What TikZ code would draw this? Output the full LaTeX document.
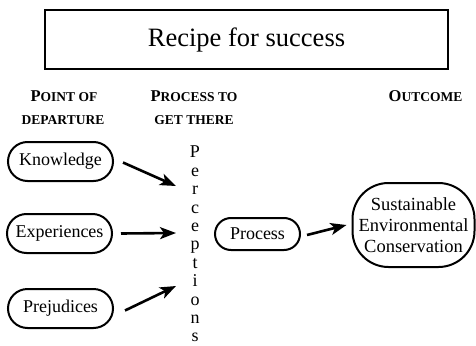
\documentclass[tikz,border=0pt]{standalone}
\usepackage{fontspec}
\setmainfont{Liberation Serif}
\usetikzlibrary{arrows.meta,shapes.misc}
\newcommand{\hsc}[2]{{\fontsize{16.5}{18}\selectfont #1}{\fontsize{13.5}{15}\selectfont #2}}
\tikzset{
  pill/.style={rounded rectangle, draw, line width=2pt, inner sep=0pt,
    font=\fontsize{18}{20}\selectfont},
  arr/.style={line width=2.6pt, -{Stealth[length=16pt,width=12pt,inset=4pt]}},
  head/.style={font=\bfseries, align=center, inner sep=0pt}
}
\begin{document}
\begin{tikzpicture}[x=1pt,y=-1pt]
\useasboundingbox (0,0) rectangle (476,345);
\node[draw, line width=2pt, minimum width=403pt, minimum height=59pt, inner sep=0pt,
  font=\fontsize{26.5}{30}\selectfont] (title) at (246.5,39.5) {Recipe for success};
\node[head, anchor=base] (h1) at (64,101.7) {\hsc{P}{OINT OF}};
\node[head, anchor=base] (h1b) at (63,124) {\fontsize{13.5}{15}\selectfont DEPARTURE};
\node[head, anchor=base] (h2) at (194,101.7) {\hsc{P}{ROCESS TO}};
\node[head, anchor=base] (h2b) at (194,124) {\fontsize{13.5}{15}\selectfont GET THERE};
\node[head, anchor=base] (h3) at (425.5,101.7) {\hsc{O}{UTCOME}};

\node[pill, minimum width=105pt, minimum height=39pt] (know) at (60.5,161.5) {Knowledge};
\node[pill, minimum width=105pt, minimum height=39pt] (exp) at (59.5,233.5) {Experiences};
\node[pill, minimum width=105pt, minimum height=39pt] (prej) at (60.5,308.5) {Prejudices};

\node[align=center, inner sep=0pt, font=\fontsize{18}{18.4}\selectfont] (perc) at (195,244)
  {P\\e\\r\\c\\e\\p\\t\\i\\o\\n\\s};

\node[pill, minimum width=85pt, minimum height=32pt] (proc) at (257.5,234) {Process};
\node[draw, line width=2pt, rounded corners=36pt, minimum width=122pt, minimum height=84pt,
  inner sep=0pt, align=center, font=\fontsize{18.5}{21}\selectfont] (out) at (413.5,225)
  {Sustainable\\Environmental\\Conservation};

\coordinate (pk) at (176,186);
\coordinate (pe) at (176,233);
\coordinate (pp) at (176,286);
\draw[arr] ([xshift=9pt,yshift=-1pt]know.east) -- (pk);
\draw[arr] ([xshift=8pt]exp.east) -- (pe);
\draw[arr] ([xshift=11pt,yshift=-2pt]prej.east) -- (pp);
\draw[arr] ([xshift=6pt,yshift=-1pt]proc.east) -- ([xshift=-5pt]out.west);
\end{tikzpicture}
\end{document}
